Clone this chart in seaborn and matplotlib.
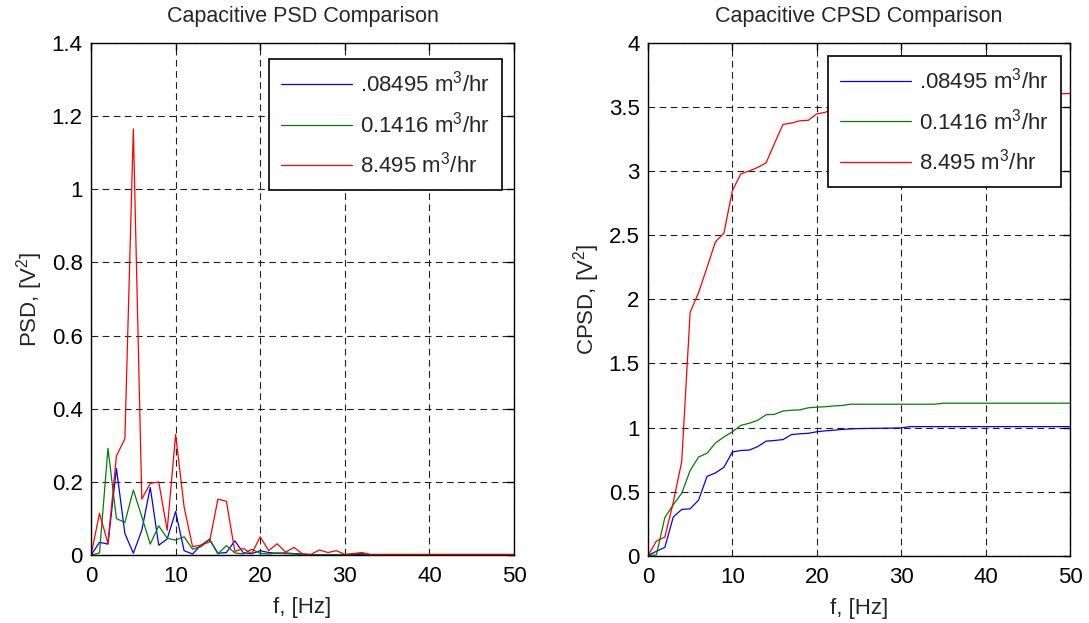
import numpy as np
import pandas as pd
import matplotlib
matplotlib.use("Agg")
import matplotlib.pyplot as plt
import seaborn as sns
from matplotlib.ticker import FuncFormatter

# frequencies, 1 Hz bins
freq = list(range(0, 51))

flow_labels = [r".08495 m$^3$/hr", r"0.1416 m$^3$/hr", r"8.495 m$^3$/hr"]

# PSD values, [V^2]
psd_low = [0, 0.035, 0.030, 0.237, 0.059, 0.005, 0.068, 0.185, 0.027, 0.044,
           0.119, 0.012, 0.003, 0.027, 0.043, 0.005, 0.007, 0.039, 0.006, 0.004,
           0.012, 0.007, 0.005, 0.006, 0.004, 0.003, 0.001, 0.001, 0.001, 0.001,
           0.001, 0.002, 0.001, 0, 0, 0, 0, 0, 0, 0,
           0, 0, 0, 0, 0, 0, 0, 0, 0, 0, 0]
psd_mid = [0, 0.006, 0.292, 0.100, 0.089, 0.178, 0.105, 0.030, 0.080, 0.046,
           0.041, 0.050, 0.016, 0.023, 0.044, 0.003, 0.026, 0.006, 0.003, 0.016,
           0.005, 0.003, 0.006, 0.004, 0.003, 0.001, 0.001, 0.001, 0.001, 0.001,
           0.001, 0.003, 0.005, 0.001, 0.001, 0.001, 0, 0, 0, 0,
           0, 0, 0, 0, 0, 0, 0, 0, 0, 0, 0]
psd_high = [0, 0.114, 0.032, 0.271, 0.318, 1.165, 0.153, 0.196, 0.200, 0.068,
            0.330, 0.132, 0.023, 0.027, 0.036, 0.153, 0.147, 0.010, 0.018, 0.004,
            0.050, 0.012, 0.031, 0.008, 0.021, 0.003, 0.002, 0.014, 0.007, 0.012,
            0.002, 0.004, 0.007, 0.002, 0.002, 0.002, 0.002, 0.002, 0.002, 0.002,
            0.002, 0.002, 0.002, 0.002, 0.002, 0.002, 0.002, 0.002, 0.002, 0.002, 0.002]

# cumulative PSD values, [V^2]
cpsd_low = [0, 0.035, 0.065, 0.302, 0.361, 0.366, 0.434, 0.619, 0.646, 0.690,
            0.809, 0.821, 0.824, 0.851, 0.894, 0.899, 0.906, 0.945, 0.951, 0.955,
            0.967, 0.974, 0.979, 0.985, 0.989, 0.992, 0.993, 0.994, 0.995, 0.996,
            0.997, 1.007, 1.007, 1.007, 1.007, 1.007, 1.007, 1.007, 1.007, 1.007,
            1.007, 1.007, 1.007, 1.007, 1.007, 1.007, 1.007, 1.007, 1.007, 1.007, 1.007]
cpsd_mid = [0, 0.006, 0.298, 0.398, 0.487, 0.665, 0.770, 0.800, 0.880, 0.926,
            0.967, 1.017, 1.033, 1.056, 1.100, 1.103, 1.129, 1.135, 1.138, 1.154,
            1.159, 1.162, 1.168, 1.172, 1.182, 1.182, 1.182, 1.182, 1.182, 1.182,
            1.182, 1.182, 1.182, 1.182, 1.182, 1.190, 1.190, 1.190, 1.190, 1.190,
            1.190, 1.190, 1.190, 1.190, 1.190, 1.190, 1.190, 1.190, 1.190, 1.190, 1.190]
cpsd_high = [0, 0.114, 0.146, 0.417, 0.735, 1.900, 2.053, 2.249, 2.449, 2.517,
             2.847, 2.979, 3.002, 3.029, 3.065, 3.218, 3.365, 3.375, 3.393, 3.397,
             3.447, 3.459, 3.490, 3.498, 3.519, 3.522, 3.524, 3.538, 3.545, 3.557,
             3.559, 3.563, 3.570, 3.572, 3.574, 3.576, 3.578, 3.580, 3.582, 3.584,
             3.586, 3.588, 3.590, 3.592, 3.594, 3.596, 3.598, 3.600, 3.602, 3.604, 3.606]

colors = ["#0000ff", "#008000", "#ff0000"]

sns.set_theme(style="white")
plt.rcParams.update({
    "font.family": ["Liberation Sans", "DejaVu Sans"],
    "mathtext.fontset": "custom",
    "mathtext.rm": "Liberation Sans",
    "mathtext.it": "Liberation Sans:italic",
    "axes.edgecolor": "black",
    "axes.linewidth": 1.0,
    "xtick.direction": "in",
    "ytick.direction": "in",
    "xtick.top": True,
    "ytick.right": True,
    "xtick.major.size": 5,
    "ytick.major.size": 5,
    "xtick.color": "black",
    "ytick.color": "black",
})

FS = 16


def long_form(series):
    frames = []
    for label, vals in zip(flow_labels, series):
        frames.append(pd.DataFrame({"f": freq, "val": vals, "flow": label}))
    return pd.concat(frames, ignore_index=True)


def g_fmt(x, pos):
    return "%g" % x


def style_axes(ax, ylim, yticks, title, ylabel, legend_anchor):
    ax.set_xlim(0, 50)
    ax.set_ylim(*ylim)
    ax.set_xticks([0, 10, 20, 30, 40, 50])
    ax.set_yticks(yticks)
    ax.yaxis.set_major_formatter(FuncFormatter(g_fmt))
    ax.tick_params(labelsize=FS, width=1.0, pad=6)
    ax.tick_params(axis="x", pad=8)
    ax.grid(True, color="#202020", linestyle=(0, (6, 4)), linewidth=0.8)
    ax.set_axisbelow(True)
    for s in ax.spines.values():
        s.set_visible(True)
        s.set_color("black")
    ax.set_title(title, fontsize=FS - 0.5, pad=15)
    ax.set_xlabel("f, [Hz]", fontsize=FS, labelpad=7)
    ax.set_ylabel(ylabel, fontsize=FS, labelpad=5)
    handles, labels = ax.get_legend_handles_labels()
    leg = ax.legend(handles, labels, loc="upper right", bbox_to_anchor=legend_anchor,
                    fontsize=FS, frameon=True, fancybox=False, framealpha=1,
                    edgecolor="black", borderaxespad=0, handlelength=3.2,
                    handletextpad=0.36, borderpad=0.55, labelspacing=0.65)
    leg.get_frame().set_linewidth(1.2)


fig = plt.figure(figsize=(10.89, 6.23), dpi=100)
ax1 = fig.add_axes([0.0836, 0.109, 0.3884, 0.822])
ax2 = fig.add_axes([0.595, 0.108, 0.3875, 0.823])

psd_df = long_form([psd_low, psd_mid, psd_high])
cpsd_df = long_form([cpsd_low, cpsd_mid, cpsd_high])

sns.lineplot(data=psd_df, x="f", y="val", hue="flow", hue_order=flow_labels,
             palette=colors, linewidth=0.9, ax=ax1)
sns.lineplot(data=cpsd_df, x="f", y="val", hue="flow", hue_order=flow_labels,
             palette=colors, linewidth=0.9, ax=ax2)

style_axes(ax1, (0, 1.4), np.arange(0, 1.41, 0.2), "Capacitive PSD Comparison",
           r"PSD, [V$^2$]", (0.972, 0.969))
style_axes(ax2, (0, 4), np.arange(0, 4.01, 0.5), "Capacitive CPSD Comparison",
           r"CPSD, [V$^2$]", (0.979, 0.975))

fig.savefig("out.png", dpi=100)
